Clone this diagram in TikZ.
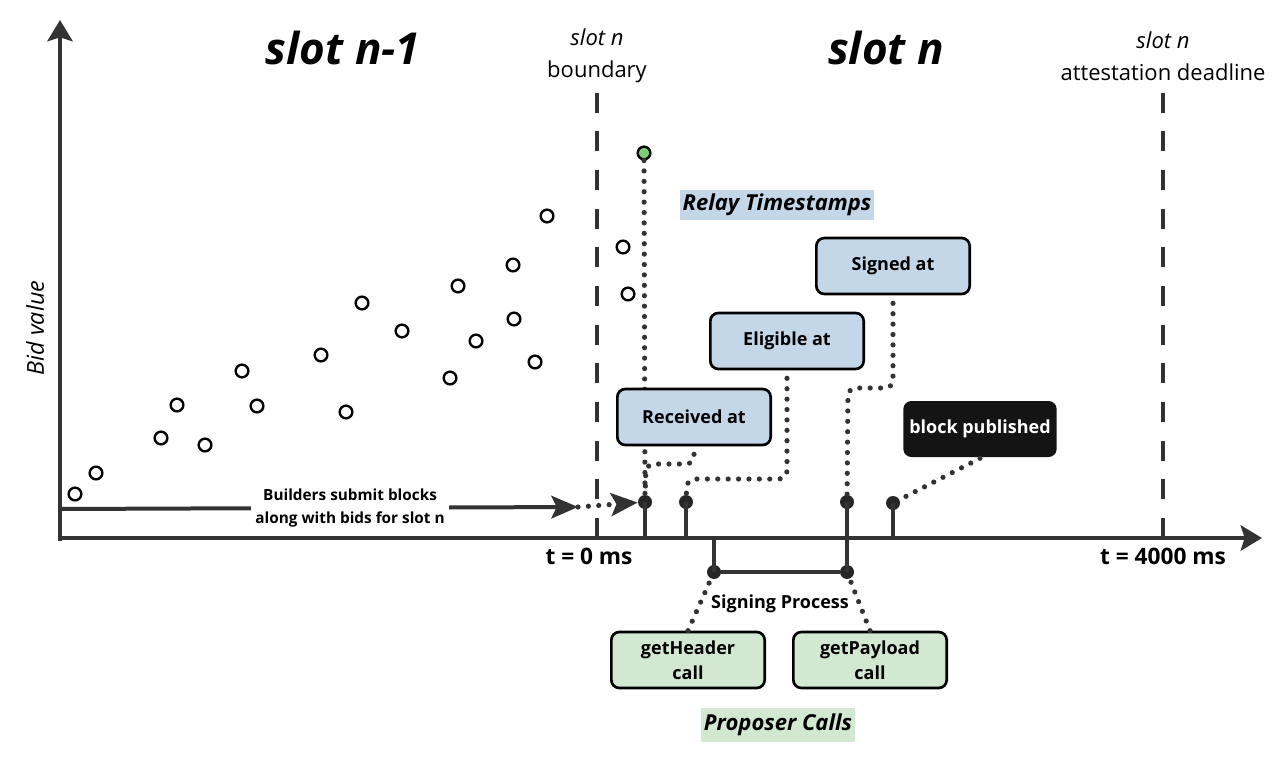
\documentclass[tikz,border=0pt]{standalone}
\usepackage{fontspec}
\setmainfont{Open Sans}
\usepackage{tikz}
\usetikzlibrary{
    positioning,
    arrows.meta
}
\definecolor{axisgray}{HTML}{333333}
\definecolor{relayblue}{HTML}{C3D7E8}
\definecolor{callgreen}{HTML}{D3E8D0}
\definecolor{bidgreen}{HTML}{7DCB7B}
\tikzset{
    >=Stealth,
    tagbox/.style={
        draw=black,
        line width=2pt,
        rounded corners=6pt,
        minimum width=115pt,
        minimum height=42pt,
        align=center,
        font=\fontsize{13.5}{18.5}\selectfont\bfseries
    },
    relaybox/.style={tagbox, fill=relayblue},
    callbox/.style={tagbox, fill=callgreen},
    pubbox/.style={tagbox, draw=none, fill=black!92, text=white}
}

\begin{document}
\begin{tikzpicture}[
    x=0.75pt, y=-0.75pt,
    axis/.style={draw=axisgray, line width=3pt,
        -{Stealth[length=16pt, width=19pt, inset=3pt]}},
    stem/.style={draw=axisgray, line width=3pt},
    slotline/.style={draw=axisgray, line width=3pt, dash pattern=on 15pt off 14pt},
    dotline/.style={draw=axisgray, line width=3.9pt, line cap=round,
        dash pattern=on 0pt off 7.8pt},
    evdot/.style={circle, fill=black!85, inner sep=0pt, minimum size=10.5pt},
    bid/.style={circle, draw=black, line width=1.8pt, inner sep=0pt, minimum size=9.5pt},
    flowtip/.style={-{Stealth[length=20pt, width=17pt, inset=4pt]}},
    bigslot/.style={font=\fontsize{33}{36}\selectfont\bfseries\itshape},
    marklabel/.style={align=center, font=\fontsize{16.5}{24}\selectfont},
    timelabel/.style={font=\fontsize{17}{20}\selectfont\bfseries},
    tagline/.style={inner sep=1pt, font=\fontsize{16.5}{20}\selectfont\bfseries\itshape}
]
    \useasboundingbox (0,0) rectangle (1280,759);

    % Ejes
    \coordinate (origin) at (60,538);
    \coordinate (ytop)   at (60,20);
    \coordinate (xend)   at (1262,538);
    \draw[axis] (60,541) -- (ytop);
    \draw[axis] (58,538) -- (xend);
    \node[rotate=90, font=\fontsize{17.5}{20}\selectfont\itshape] (bidlabel) at (35,328) {Bid value};

    % Limites de slot
    \coordinate (bnd-foot) at (597,538);
    \coordinate (bnd-top)  at (597,88);
    \coordinate (att-foot) at (1163,538);
    \coordinate (att-top)  at (1163,88);
    \draw[slotline] (bnd-foot) -- (bnd-top);
    \draw[slotline] (att-foot) -- (att-top);
    \node[marklabel] (bndlabel) at (597,56) {{\itshape slot n}\\boundary};
    \node[marklabel] (attlabel) at (1163,56) {{\itshape slot n}\\attestation deadline};
    \node[bigslot] (slotprev) at (343,48) {slot n-1};
    \node[bigslot] (slotcur)  at (886,48) {slot n};
    \node[timelabel] (tzero) at (589,556) {t = 0 ms};
    \node[timelabel] (tend)  at (1163,556) {t = 4000 ms};

    % Pujas
    \foreach \x/\y [count=\i] in {75/494, 96/473, 161/438, 177/405, 205/445,
        242/371, 257/406, 321/355, 346/412, 362/303, 402/331, 450/378,
        458/286, 476/341, 513/265, 514/319, 535/362, 547/216, 623/247, 628/294}
        \node[bid] (bid\i) at (\x,\y) {};
    \node[bid, fill=bidgreen] (topbid) at (644,153) {};

    % Eventos sobre la linea de tiempo
    \node[evdot] (d-recv) at (645,502) {};
    \node[evdot] (d-elig) at (686,502) {};
    \node[evdot] (d-sign) at (847,502) {};
    \node[evdot] (d-pub)  at (893,503) {};
    \node[evdot] (d-head) at (714,572) {};
    \node[evdot] (d-pay)  at (847,572) {};
    \draw[stem] (d-recv.center) -- (d-recv |- origin);
    \draw[stem] (d-elig.center) -- (d-elig |- origin);
    \draw[stem] (d-pub.center)  -- (d-pub |- origin);
    \draw[stem] (d-sign.center) -- (d-pay.center);
    \draw[stem] (d-head.center) -- (d-head |- origin);
    \draw[stem] (d-head) -- (d-pay);
    \node[font=\fontsize{13.5}{16}\selectfont\bfseries] (signing) at (780,604) {Signing Process};

    % Envio de bloques
    \coordinate (bld-start) at (60,509);
    \coordinate (bld-end)   at (578,507);
    \draw[stem, flowtip] (bld-start) --
        node[pos=0.56, fill=white, inner sep=3pt, align=center,
             font=\fontsize{11.5}{17}\selectfont\bfseries]
        (builders) {Builders submit blocks\\along with bids for slot n} (bld-end);
    \draw[dotline, flowtip] (bld-end) -- (d-recv);

    \draw[dotline] (topbid) -- (d-recv);

    % Marcas del relay
    \node[tagline, fill=relayblue, minimum width=145pt, minimum height=23pt] (relaytag) at (777,205) {Relay Timestamps};
    \node[relaybox] (recv) at (694,417) {Received at};
    \node[relaybox] (elig) at (787,341) {Eligible at};
    \node[relaybox] (sign) at (893,266) {Signed at};
    \node[pubbox]   (pub)  at (980,429) {block published};

    \coordinate (recv-bend) at (646,464);
    \coordinate (elig-bend) at (687,479);
    \coordinate (sign-bend) at (848,388);
    \draw[dotline, rounded corners=6pt, shorten <=6pt] (recv.south) |- (recv-bend) -- (d-recv);
    \draw[dotline, rounded corners=6pt, shorten <=6pt] (elig.south) |- (elig-bend) -- (d-elig);
    \draw[dotline, rounded corners=6pt, shorten <=6pt] (sign.south) |- (sign-bend) -- (d-sign);
    \draw[dotline] (pub.south) -- (d-pub);

    % Llamadas del proposer
    \node[callbox] (head) at (688,660) {getHeader\\call};
    \node[callbox] (pay)  at (870,660) {getPayload\\call};
    \node[tagline, fill=callgreen, minimum width=115pt, minimum height=25pt] (calltag) at (778,725) {Proposer Calls};
    \draw[dotline] (head.north) -- (d-head);
    \draw[dotline] (pay.north) -- (d-pay);

\end{tikzpicture}
\end{document}
